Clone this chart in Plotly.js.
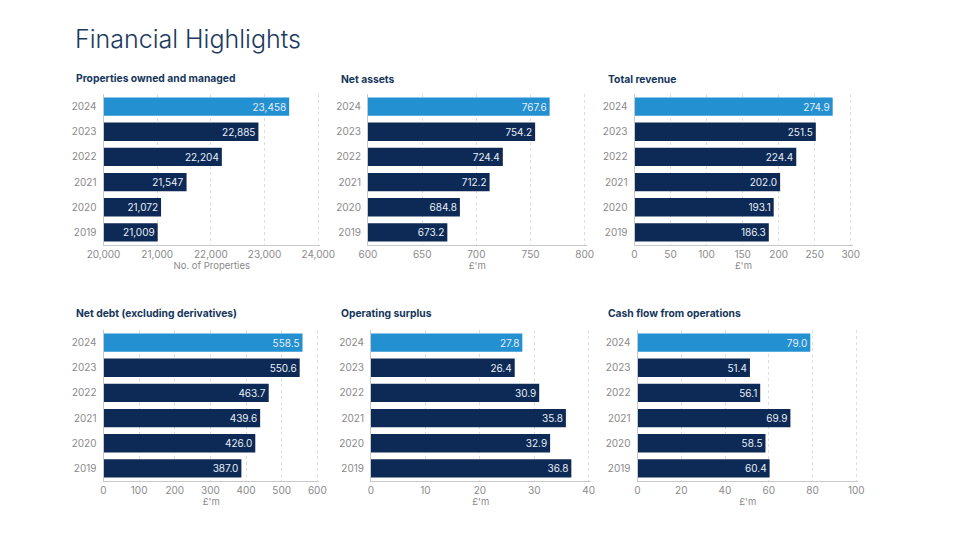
<!DOCTYPE html>
<html>
<head>
<meta charset="utf-8">
<script src="https://cdn.plot.ly/plotly-3.0.1.min.js"></script>
<style>
  html, body { margin: 0; padding: 0; background: #fff; }
  #chart { width: 965px; height: 541px; }
</style>
</head>
<body>
<div id="chart"></div>
<script>
// data
const years = ['2019', '2020', '2021', '2022', '2023', '2024'];
const properties = [21009, 21072, 21547, 22204, 22885, 23458];
const netAssets = [673.2, 684.8, 712.2, 724.4, 754.2, 767.6];
const totalRevenue = [186.3, 193.1, 202.0, 224.4, 251.5, 274.9];
const netDebt = [387.0, 426.0, 439.6, 463.7, 550.6, 558.5];
const operatingSurplus = [36.8, 32.9, 35.8, 30.9, 26.4, 27.8];
const cashFlow = [60.4, 58.5, 69.9, 56.1, 51.4, 79.0];

const panelTitles = ['Properties owned and managed', 'Net assets', 'Total revenue',
    'Net debt (excluding derivatives)', 'Operating surplus', 'Cash flow from operations'];
const axisTitles = ['No. of Properties', "£'m", "£'m", "£'m", "£'m", "£'m"];
const xRanges = [[20000, 24000], [600, 800], [0, 300], [0, 600], [0, 40], [0, 100]];
const xSteps = [1000, 50, 50, 100, 10, 20];

const series = [properties, netAssets, totalRevenue, netDebt, operatingSurplus, cashFlow];

// layout boxes in pixels (left, right, top, bottom)
const W = 965, H = 541;
const boxes = [
    [103.5, 320, 94, 245],
    [368, 586.5, 94, 245],
    [634.5, 852.5, 94, 245],
    [103.5, 319, 330, 481],
    [371, 590.5, 330, 481],
    [637.5, 858, 330, 481]
];
const titleX = [74, 339, 606, 74, 339, 605.5];
const titleY = [79, 79, 79, 313, 313, 313];

const navy = '#0c2a55';
const blue = '#2390d2';
const txt = '#16365c';
const grey = '#8a8a8a';
const font = 'Inter, "Noto Sans", sans-serif';

var data = [];
var layout = {
    width: W, height: H,
    margin: {l: 0, r: 0, t: 0, b: 0},
    paper_bgcolor: '#fff',
    plot_bgcolor: '#fff',
    showlegend: false,
    bargap: 0.27,
    font: {family: font, color: grey, size: 10},
    title: {
        text: 'Financial Highlights',
        xref: 'container', yref: 'container',
        x: 75 / W, xanchor: 'left',
        y: 1 - 39 / H, yanchor: 'middle',
        font: {family: font, size: 25, color: '#1b3a5e', weight: 300}
    },
    annotations: []
};

for (let i = 0; i < series.length; i++) {
    let n = i === 0 ? '' : String(i + 1);
    let vals = series[i];
    let labels = vals.map(v => i === 0 ? v.toLocaleString('en-GB') : v.toFixed(1));
    let colors = years.map((y, k) => k === years.length - 1 ? blue : navy);
    // push the right end out a little so the last dashed gridline is kept
    let r = xRanges[i];
    let span = r[1] - r[0];

    data.push({
        type: 'bar',
        orientation: 'h',
        x: vals,
        y: years,
        xaxis: 'x' + n,
        yaxis: 'y' + n,
        marker: {color: colors, line: {width: 0}},
        text: labels,
        textposition: 'inside',
        insidetextanchor: 'end',
        constraintext: 'none',
        textfont: {family: font, size: 10, color: '#e9eef6'},
        hoverinfo: 'none'
    });

    let b = boxes[i];
    layout['xaxis' + n] = {
        domain: [b[0] / W, b[1] / W],
        anchor: 'y' + n,
        range: [r[0], r[1] + span * 0.008],
        dtick: xSteps[i],
        tick0: r[0],
        tickformat: i === 0 ? ',' : '',
        showgrid: true,
        gridcolor: '#dedede',
        griddash: '3px,3px',
        gridwidth: 1,
        zeroline: false,
        showline: true,
        linecolor: '#c8c8c8',
        linewidth: 1,
        ticks: '',
        tickfont: {size: 10, color: grey},
        title: {text: axisTitles[i], standoff: 3, font: {size: 9.5, color: grey}},
        fixedrange: true
    };
    layout['yaxis' + n] = {
        domain: [1 - b[3] / H, 1 - b[2] / H],
        anchor: 'x' + n,
        type: 'category',
        categoryorder: 'array',
        categoryarray: years,
        showgrid: false,
        zeroline: false,
        showline: true,
        linecolor: '#c8c8c8',
        linewidth: 1,
        ticks: '',
        ticklabelstandoff: 4,
        tickfont: {size: 10, color: grey},
        fixedrange: true
    };

    layout.annotations.push({
        text: '<b>' + panelTitles[i] + '</b>',
        xref: 'paper', yref: 'paper',
        x: titleX[i] / W, xanchor: 'left',
        y: 1 - titleY[i] / H, yanchor: 'middle',
        showarrow: false,
        font: {family: font, size: 10.3, color: txt}
    });
}

Plotly.newPlot('chart', data, layout, {displayModeBar: false, staticPlot: true});
</script>
</body>
</html>
